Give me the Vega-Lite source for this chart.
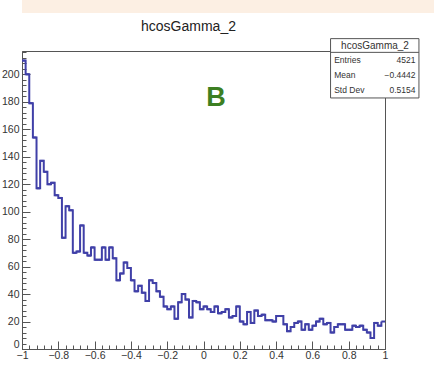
{
  "$schema": "https://vega.github.io/schema/vega-lite/v6.json",
  "padding": 0,
  "spacing": 6,
  "background": "white",
  "config": {"font": "Liberation Sans", "concat": {"spacing": 6}},
  "datasets": {
    "bins": [
      {"lo": -1, "hi": -0.98, "count": 210}, {"lo": -0.98, "hi": -0.96, "count": 200}, {"lo": -0.96, "hi": -0.94, "count": 179}, {"lo": -0.94, "hi": -0.92, "count": 154}, {"lo": -0.92, "hi": -0.9, "count": 117},
      {"lo": -0.9, "hi": -0.88, "count": 137}, {"lo": -0.88, "hi": -0.86, "count": 129}, {"lo": -0.86, "hi": -0.84, "count": 120}, {"lo": -0.84, "hi": -0.82, "count": 121}, {"lo": -0.82, "hi": -0.8, "count": 112},
      {"lo": -0.8, "hi": -0.78, "count": 110}, {"lo": -0.78, "hi": -0.76, "count": 81}, {"lo": -0.76, "hi": -0.74, "count": 104}, {"lo": -0.74, "hi": -0.72, "count": 101}, {"lo": -0.72, "hi": -0.7, "count": 70},
      {"lo": -0.7, "hi": -0.68, "count": 71}, {"lo": -0.68, "hi": -0.66, "count": 90}, {"lo": -0.66, "hi": -0.64, "count": 70}, {"lo": -0.64, "hi": -0.62, "count": 68}, {"lo": -0.62, "hi": -0.6, "count": 74},
      {"lo": -0.6, "hi": -0.58, "count": 65}, {"lo": -0.58, "hi": -0.56, "count": 65}, {"lo": -0.56, "hi": -0.54, "count": 74}, {"lo": -0.54, "hi": -0.52, "count": 65}, {"lo": -0.52, "hi": -0.5, "count": 74},
      {"lo": -0.5, "hi": -0.48, "count": 66}, {"lo": -0.48, "hi": -0.46, "count": 50}, {"lo": -0.46, "hi": -0.44, "count": 55}, {"lo": -0.44, "hi": -0.42, "count": 63}, {"lo": -0.42, "hi": -0.4, "count": 59},
      {"lo": -0.4, "hi": -0.38, "count": 50}, {"lo": -0.38, "hi": -0.36, "count": 42}, {"lo": -0.36, "hi": -0.34, "count": 46}, {"lo": -0.34, "hi": -0.32, "count": 41}, {"lo": -0.32, "hi": -0.3, "count": 35},
      {"lo": -0.3, "hi": -0.28, "count": 50}, {"lo": -0.28, "hi": -0.26, "count": 48}, {"lo": -0.26, "hi": -0.24, "count": 42}, {"lo": -0.24, "hi": -0.22, "count": 38}, {"lo": -0.22, "hi": -0.2, "count": 31},
      {"lo": -0.2, "hi": -0.18, "count": 29}, {"lo": -0.18, "hi": -0.16, "count": 31}, {"lo": -0.16, "hi": -0.14, "count": 22}, {"lo": -0.14, "hi": -0.12, "count": 34}, {"lo": -0.12, "hi": -0.1, "count": 40},
      {"lo": -0.1, "hi": -0.08, "count": 36}, {"lo": -0.08, "hi": -0.06, "count": 23}, {"lo": -0.06, "hi": -0.04, "count": 35}, {"lo": -0.04, "hi": -0.02, "count": 34}, {"lo": -0.02, "hi": 0, "count": 29},
      {"lo": 0, "hi": 0.02, "count": 31}, {"lo": 0.02, "hi": 0.04, "count": 29}, {"lo": 0.04, "hi": 0.06, "count": 27}, {"lo": 0.06, "hi": 0.08, "count": 31}, {"lo": 0.08, "hi": 0.1, "count": 26},
      {"lo": 0.1, "hi": 0.12, "count": 27}, {"lo": 0.12, "hi": 0.14, "count": 29}, {"lo": 0.14, "hi": 0.16, "count": 23}, {"lo": 0.16, "hi": 0.18, "count": 24}, {"lo": 0.18, "hi": 0.2, "count": 31},
      {"lo": 0.2, "hi": 0.22, "count": 20}, {"lo": 0.22, "hi": 0.24, "count": 18}, {"lo": 0.24, "hi": 0.26, "count": 27}, {"lo": 0.26, "hi": 0.28, "count": 19}, {"lo": 0.28, "hi": 0.3, "count": 28},
      {"lo": 0.3, "hi": 0.32, "count": 24}, {"lo": 0.32, "hi": 0.34, "count": 25}, {"lo": 0.34, "hi": 0.36, "count": 21}, {"lo": 0.36, "hi": 0.38, "count": 21}, {"lo": 0.38, "hi": 0.4, "count": 20},
      {"lo": 0.4, "hi": 0.42, "count": 24}, {"lo": 0.42, "hi": 0.44, "count": 24}, {"lo": 0.44, "hi": 0.46, "count": 18}, {"lo": 0.46, "hi": 0.48, "count": 13}, {"lo": 0.48, "hi": 0.5, "count": 16},
      {"lo": 0.5, "hi": 0.52, "count": 19}, {"lo": 0.52, "hi": 0.54, "count": 20}, {"lo": 0.54, "hi": 0.56, "count": 14}, {"lo": 0.56, "hi": 0.58, "count": 18}, {"lo": 0.58, "hi": 0.6, "count": 14},
      {"lo": 0.6, "hi": 0.62, "count": 17}, {"lo": 0.62, "hi": 0.64, "count": 20}, {"lo": 0.64, "hi": 0.66, "count": 22}, {"lo": 0.66, "hi": 0.68, "count": 18}, {"lo": 0.68, "hi": 0.7, "count": 19},
      {"lo": 0.7, "hi": 0.72, "count": 12}, {"lo": 0.72, "hi": 0.74, "count": 16}, {"lo": 0.74, "hi": 0.76, "count": 18}, {"lo": 0.76, "hi": 0.78, "count": 18}, {"lo": 0.78, "hi": 0.8, "count": 14},
      {"lo": 0.8, "hi": 0.82, "count": 14}, {"lo": 0.82, "hi": 0.84, "count": 17}, {"lo": 0.84, "hi": 0.86, "count": 16}, {"lo": 0.86, "hi": 0.88, "count": 17}, {"lo": 0.88, "hi": 0.9, "count": 14},
      {"lo": 0.9, "hi": 0.92, "count": 12}, {"lo": 0.92, "hi": 0.94, "count": 8}, {"lo": 0.94, "hi": 0.96, "count": 19}, {"lo": 0.96, "hi": 0.98, "count": 17}, {"lo": 0.98, "hi": 1, "count": 20}
    ],
    "stats": [
      {"stat": "Entries", "value": "4521"},
      {"stat": "Mean", "value": "−0.4442"},
      {"stat": "Std Dev", "value": "0.5154"}
    ]
  },
  "vconcat": [
    {
      "width": 422,
      "height": 13,
      "view": {"fill": "#fcefe3", "stroke": null},
      "data": {"values": [{"band": "header"}]},
      "mark": {"type": "rect", "opacity": 0},
      "encoding": {
        "y": {"field": "band", "type": "nominal", "axis": {"labels": false, "ticks": true, "tickSize": 12, "tickOpacity": 0, "domain": false, "title": null, "grid": false}}
      }
    },
    {
      "width": 363,
      "height": 298,
      "view": {"stroke": "#555", "strokeWidth": 1},
      "title": {"text": "hcosGamma_2", "fontSize": 14, "font": "Liberation Sans", "fontWeight": "normal", "color": "#222", "offset": 4, "dx": -15},
      "resolve": {"axis": {"x": "independent", "y": "independent"}},
      "layer": [
        {
          "data": {"name": "bins"},
          "mark": {"type": "line", "interpolate": "step-after", "stroke": "#4040a8", "strokeWidth": 2},
          "encoding": {
            "x": {"field": "lo", "type": "quantitative", "scale": {"domain": [-1, 1], "nice": false, "zero": false},
              "axis": {"values": [-1, -0.8, -0.6, -0.4, -0.2, 0, 0.2, 0.4, 0.6, 0.8, 1], "format": "~g", "tickSize": -8, "labelPadding": 9, "title": null, "grid": false, "labelFontSize": 10.5, "labelColor": "#333", "domainColor": "#555", "tickColor": "#555", "labelFlush": false, "labelOverlap": false, "orient": "bottom"}},
            "y": {"field": "count", "type": "quantitative", "scale": {"domain": [0, 217], "nice": false, "zero": true},
              "axis": {"values": [0, 20, 40, 60, 80, 100, 120, 140, 160, 180, 200], "tickSize": -8, "labelPadding": 11, "title": null, "grid": false, "labelFontSize": 10.5, "labelColor": "#333", "domainColor": "#555", "tickColor": "#555", "labelOverlap": false, "orient": "left",
                "labelBaseline": {"condition": {"test": "datum.value === 0", "value": "bottom"}, "value": "middle"}}}
          }
        },
        {
          "data": {"name": "bins"},
          "mark": {"type": "rule", "stroke": "#4040a8", "strokeWidth": 2},
          "encoding": {
            "x": {"field": "lo", "type": "quantitative",
              "axis": {"values": [-0.96, -0.92, -0.88, -0.84, -0.76, -0.72, -0.68, -0.64, -0.56, -0.52, -0.48, -0.44, -0.36, -0.32, -0.28, -0.24, -0.16, -0.12, -0.08, -0.04, 0.04, 0.08, 0.12, 0.16, 0.24, 0.28, 0.32, 0.36, 0.44, 0.48, 0.52, 0.56, 0.64, 0.68, 0.72, 0.76, 0.84, 0.88, 0.92, 0.96], "tickSize": -4, "labels": false, "domain": false, "grid": false, "title": null, "tickColor": "#555", "orient": "bottom"}},
            "x2": {"field": "hi"},
            "y": {"field": "count", "type": "quantitative",
              "axis": {"values": [4, 8, 12, 16, 24, 28, 32, 36, 44, 48, 52, 56, 64, 68, 72, 76, 84, 88, 92, 96, 104, 108, 112, 116, 124, 128, 132, 136, 144, 148, 152, 156, 164, 168, 172, 176, 184, 188, 192, 196, 204, 208, 212, 216], "tickSize": -4, "labels": false, "domain": false, "grid": false, "title": null, "tickColor": "#555", "orient": "left"}}
          }
        },
        {
          "data": {"values": [{"box": "stats"}]},
          "mark": {"type": "rect", "fill": "white", "stroke": "#555", "strokeWidth": 1},
          "encoding": {
            "x": {"datum": 0.7, "type": "quantitative", "axis": null},
            "x2": {"datum": 1.187},
            "y": {"datum": 226, "type": "quantitative", "axis": null},
            "y2": {"datum": 182.8}
          }
        },
        {
          "data": {"values": [{"box": "stats"}]},
          "mark": {"type": "rule", "stroke": "#555", "strokeWidth": 1},
          "encoding": {
            "x": {"datum": 0.7, "type": "quantitative", "axis": null},
            "x2": {"datum": 1.187},
            "y": {"datum": 216, "type": "quantitative", "axis": null}
          }
        },
        {
          "data": {"values": [{"name": "hcosGamma_2"}]},
          "mark": {"type": "text", "fontSize": 10, "color": "#333", "align": "center", "baseline": "middle"},
          "encoding": {
            "x": {"datum": 0.945, "type": "quantitative", "axis": null},
            "y": {"datum": 220.6, "type": "quantitative", "axis": null},
            "text": {"field": "name"}
          }
        },
        {
          "data": {"name": "stats"},
          "transform": [{"filter": "datum.stat === 'Entries'"}],
          "encoding": {"y": {"datum": 210.2, "type": "quantitative", "axis": null}},
          "layer": [
            {"mark": {"type": "text", "align": "left", "baseline": "middle", "fontSize": 8.5, "color": "#333"},
             "encoding": {"x": {"datum": 0.72, "type": "quantitative", "axis": null}, "text": {"field": "stat"}}},
            {"mark": {"type": "text", "align": "right", "baseline": "middle", "fontSize": 8.5, "color": "#333"},
             "encoding": {"x": {"datum": 1.168, "type": "quantitative", "axis": null}, "text": {"field": "value"}}}
          ]
        },
        {
          "data": {"name": "stats"},
          "transform": [{"filter": "datum.stat === 'Mean'"}],
          "encoding": {"y": {"datum": 199.8, "type": "quantitative", "axis": null}},
          "layer": [
            {"mark": {"type": "text", "align": "left", "baseline": "middle", "fontSize": 8.5, "color": "#333"},
             "encoding": {"x": {"datum": 0.72, "type": "quantitative", "axis": null}, "text": {"field": "stat"}}},
            {"mark": {"type": "text", "align": "right", "baseline": "middle", "fontSize": 8.5, "color": "#333"},
             "encoding": {"x": {"datum": 1.168, "type": "quantitative", "axis": null}, "text": {"field": "value"}}}
          ]
        },
        {
          "data": {"name": "stats"},
          "transform": [{"filter": "datum.stat === 'Std Dev'"}],
          "encoding": {"y": {"datum": 188.9, "type": "quantitative", "axis": null}},
          "layer": [
            {"mark": {"type": "text", "align": "left", "baseline": "middle", "fontSize": 8.5, "color": "#333"},
             "encoding": {"x": {"datum": 0.72, "type": "quantitative", "axis": null}, "text": {"field": "stat"}}},
            {"mark": {"type": "text", "align": "right", "baseline": "middle", "fontSize": 8.5, "color": "#333"},
             "encoding": {"x": {"datum": 1.168, "type": "quantitative", "axis": null}, "text": {"field": "value"}}}
          ]
        },
        {
          "data": {"values": [{"panel": "B"}]},
          "mark": {"type": "text", "fontSize": 27, "fontWeight": "bold", "color": "#3d7f22", "align": "center", "baseline": "middle"},
          "encoding": {
            "x": {"datum": 0.069, "type": "quantitative", "axis": null},
            "y": {"datum": 182.5, "type": "quantitative", "axis": null},
            "text": {"field": "panel"}
          }
        }
      ]
    }
  ]
}
